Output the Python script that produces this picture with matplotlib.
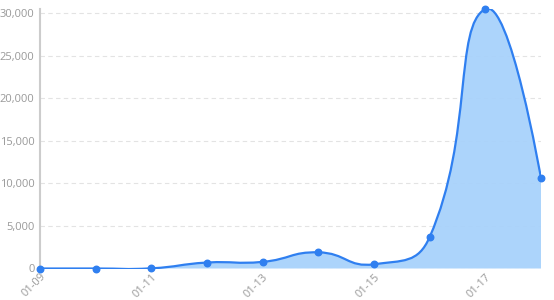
import matplotlib
matplotlib.use("Agg")
import matplotlib.pyplot as plt
from matplotlib.path import Path
from matplotlib.patches import PathPatch
from matplotlib.ticker import FuncFormatter
import numpy as np

dates = ["01-09", "01-10", "01-11", "01-12", "01-13", "01-14", "01-15", "01-16", "01-17", "01-18"]
values = [0, 0, 20, 700, 780, 1900, 500, 3700, 30500, 10600]
yticks = [0, 5000, 10000, 15000, 20000, 25000, 30000]
line_color = "#2f7ff0"
fill_color = "#a8d2fb"

plt.rcParams['font.family'] = ['Open Sans', 'DejaVu Sans']

fig = plt.figure(figsize=(5.54, 3.0), dpi=100)
ax = fig.add_axes([40/554, 1 - 268.5/300, (541 - 40)/554, (268.5 - 9)/300])
x = np.arange(len(dates))
ax.set_xlim(0, len(dates) - 1)
ax.set_ylim(0, max(values))

# echarts-like smoothing in display space
fig.canvas.draw()
pts = ax.transData.transform(np.column_stack([x, values]))
smooth = 0.5
verts = [tuple(pts[0])]
codes = [Path.MOVETO]
cp0 = pts[0].copy()
n = len(pts)
for k in range(1, n):
    p = pts[k]
    prev = pts[k - 1]
    if k == n - 1:
        ncp = p.copy()
        v = np.zeros(2)
        ratio = 0.5
    else:
        nxt = pts[k + 1]
        v = nxt - prev
        l0 = np.hypot(*(p - prev))
        l1 = np.hypot(*(nxt - p))
        ratio = l1 / (l0 + l1)
        ncp = p - v * smooth * (1 - ratio)
    verts += [tuple(cp0), tuple(ncp), tuple(p)]
    codes += [Path.CURVE4] * 3
    cp0 = p + v * smooth * ratio

inv = ax.transData.inverted()
dverts = inv.transform(np.array(verts))
line_path = Path(dverts, codes)
fill_verts = list(map(tuple, dverts)) + [(x[-1], 0), (x[0], 0), (x[0], 0)]
fill_codes = codes + [Path.LINETO, Path.LINETO, Path.CLOSEPOLY]
ax.add_patch(PathPatch(Path(fill_verts, fill_codes), facecolor=fill_color, edgecolor='none', alpha=0.95, zorder=2))
ax.add_patch(PathPatch(line_path, facecolor='none', edgecolor=line_color, lw=1.6, zorder=3))
ax.scatter(x, values, s=22, color=line_color, zorder=4, clip_on=False)

ax.set_yticks(yticks)
ax.yaxis.set_major_formatter(FuncFormatter(lambda v, p: f"{int(v):,}"))
ax.set_xticks(x[::2])
ax.set_xticklabels(dates[::2], rotation=45, ha='right', va='top', rotation_mode='anchor')
ax.tick_params(axis='both', length=0, labelsize=8, labelcolor='#999999')
ax.tick_params(axis='y', pad=4)
ax.tick_params(axis='x', pad=2)
ax.grid(axis='y', color='#e3e3e3', linestyle=(0, (4, 3)), lw=0.8, zorder=1)
ax.set_axisbelow(True)
for s in ['top', 'right', 'bottom']:
    ax.spines[s].set_visible(False)
ax.spines['left'].set_color('#cccccc')
ax.spines['left'].set_linewidth(1.5)

fig.savefig("out.png", dpi=100)
